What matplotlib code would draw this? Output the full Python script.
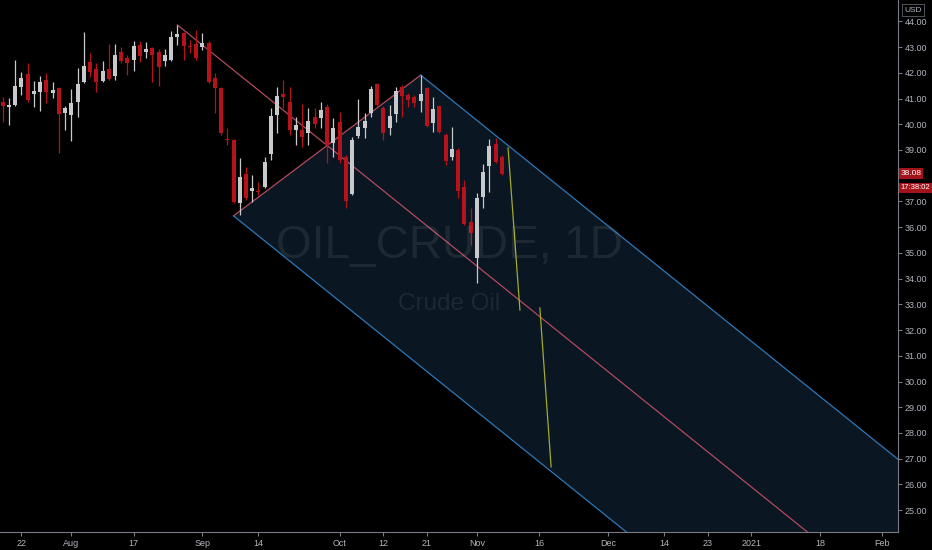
import numpy as np
import pandas as pd
import matplotlib
matplotlib.use('Agg')
import matplotlib.pyplot as plt
from matplotlib import transforms

# daily candles of OIL_CRUDE, 17 Jul 2020 .. 6 Nov 2020
opens = [40.88, 40.67, 40.75, 41.44, 41.95, 41.17, 41.26, 41.71, 41.20, 41.42,
         40.45, 40.36, 40.88, 41.63, 42.42, 42.16, 41.69, 42.16, 41.89, 42.80,
         42.59, 42.50, 43.08, 42.82, 42.97, 42.80, 42.46, 42.50, 43.40, 43.53,
         43.05, 43.12, 43.01, 43.17, 41.81, 41.40, 39.43, 39.39, 36.93, 38.07,
         37.42, 37.40, 37.57, 38.83, 40.36, 41.17, 40.85, 39.78, 39.78, 39.65,
         40.29, 40.23, 40.68, 39.26, 40.10, 38.74, 37.28, 39.55, 39.84, 40.42,
         41.55, 40.62, 39.84, 40.40, 41.46, 41.14, 41.07, 40.91, 41.40, 40.04,
         40.71, 39.58, 38.71, 39.00, 37.57, 36.21, 34.79, 37.16, 38.38, 39.23,
         38.71]
highs = [41.07, 41.02, 42.50, 42.02, 42.37, 41.69, 41.87, 42.00, 41.63, 41.46,
         40.71, 41.36, 42.17, 43.60, 42.76, 42.37, 42.46, 43.12, 43.12, 43.01,
         42.69, 43.25, 43.25, 43.21, 43.01, 42.91, 42.91, 43.62, 43.84, 43.60,
         43.27, 43.66, 43.53, 43.25, 41.98, 41.46, 39.84, 39.41, 38.68, 38.35,
         38.03, 37.77, 38.74, 40.62, 41.46, 41.72, 41.46, 40.29, 40.77, 40.62,
         40.62, 40.88, 40.77, 40.23, 40.49, 38.80, 39.52, 40.98, 40.42, 41.50,
         41.59, 40.71, 40.75, 41.46, 41.52, 41.20, 41.14, 41.91, 41.46, 41.07,
         40.75, 39.65, 39.90, 39.06, 37.83, 36.73, 37.32, 38.45, 39.41, 39.45,
         38.80]
lows = [40.10, 39.97, 40.71, 41.14, 40.88, 40.66, 40.53, 40.84, 41.01, 38.87,
        39.78, 39.36, 40.29, 41.59, 41.85, 41.26, 41.65, 41.72, 41.72, 42.37,
        41.91, 42.08, 42.43, 42.56, 41.65, 41.49, 42.26, 42.47, 43.08, 42.50,
        42.76, 42.50, 42.89, 41.59, 40.42, 39.58, 39.19, 36.93, 36.47, 37.06,
        36.99, 37.25, 37.51, 38.61, 39.65, 40.62, 39.58, 39.19, 39.13, 39.19,
        39.84, 39.84, 38.48, 38.74, 38.48, 36.73, 37.25, 39.45, 39.45, 40.29,
        40.68, 39.39, 39.58, 40.10, 40.29, 40.68, 40.68, 40.49, 39.88, 39.71,
        39.65, 38.42, 38.61, 37.12, 36.08, 35.31, 33.82, 36.73, 37.38, 38.48,
        38.03]
closes = [40.71, 40.75, 41.49, 41.81, 40.94, 41.29, 41.63, 41.25, 41.32, 40.40,
          40.63, 40.84, 41.56, 42.26, 42.02, 41.63, 42.06, 41.76, 42.70, 42.47,
          42.37, 43.05, 42.65, 42.91, 42.69, 42.21, 42.69, 43.40, 43.51, 43.04,
          42.99, 42.56, 43.15, 41.65, 41.40, 39.65, 39.39, 36.99, 37.96, 37.12,
          37.51, 37.36, 38.52, 40.33, 41.11, 41.07, 39.78, 39.97, 39.52, 40.14,
          40.01, 40.55, 39.19, 39.87, 38.61, 37.02, 39.39, 39.90, 40.14, 41.37,
          40.75, 39.65, 40.33, 41.29, 41.10, 40.94, 40.84, 41.17, 39.93, 40.58,
          39.71, 38.58, 39.04, 37.42, 36.12, 35.78, 37.12, 38.15, 39.15, 38.54,
          38.08]

# pitchfork pivots (bar index, price)
pivot_bars = [28, 37, 67]
pivot_prices = [43.86, 36.44, 41.91]

# two projection segments (bar index, price)
seg1_bars = [81.0, 82.9]
seg1_prices = [39.08, 32.78]
seg2_bars = [86.1, 87.9]
seg2_prices = [32.86, 26.68]

tick_dates = ['2020-07-22', '2020-08-03', '2020-08-17', '2020-09-01', '2020-09-14',
              '2020-10-01', '2020-10-12', '2020-10-21', '2020-11-02', '2020-11-16',
              '2020-12-01', '2020-12-14', '2020-12-23', '2021-01-01', '2021-01-18',
              '2021-02-01']
tick_names = ['22', 'Aug', '17', 'Sep', '14', 'Oct', '12', '21', 'Nov', '16',
              'Dec', '14', '23', '2021', '18', 'Feb']
price_ticks = list(range(25, 45))

last_price = 38.08
countdown = '17:38:02'

days = pd.bdate_range('2020-07-17', periods=150)
x = np.arange(len(opens))

bg = '#000000'
red = '#b5121b'
white = '#c8c9cc'
txt = '#b2b5be'
axis_col = '#787b86'
font = ['Liberation Sans', 'DejaVu Sans']

fig = plt.figure(figsize=(9.32, 5.5), dpi=100, facecolor=bg)
ax = fig.add_axes([0, 18 / 550, 898 / 932, 532 / 550])
ax.set_facecolor(bg)
ax.set_xlim(-0.43, 143.5)
ax.set_ylim(24.15, 44.83)

# pitchfork geometry
ax_, bx, cx = pivot_bars
ay, by, cy = pivot_prices
mx, my = (bx + cx) / 2, (by + cy) / 2
slope = (my - ay) / (mx - ax_)
far = 220
fill_x = [bx, cx, far, far]
fill_y = [by, cy, cy + slope * (far - cx), by + slope * (far - bx)]
ax.fill(fill_x, fill_y, color='#0a1621', lw=0, zorder=1)

ax.plot([ax_, far], [ay, ay + slope * (far - ax_)], color='#b24a5c', lw=0.9, zorder=3)
ax.plot([bx, cx], [by, cy], color='#b24a5c', lw=0.9, zorder=3)
ax.plot([cx, far], [cy, cy + slope * (far - cx)], color='#2e78b8', lw=0.9, zorder=3)
ax.plot([bx, far], [by, by + slope * (far - bx)], color='#2e78b8', lw=0.9, zorder=3)

ax.plot(seg1_bars, seg1_prices, color='#a4aa28', lw=0.9, zorder=3)
ax.plot(seg2_bars, seg2_prices, color='#a4aa28', lw=0.9, zorder=3)

# watermark
fig.text(449 / 932, 1 - 258 / 550, 'OIL_CRUDE, 1D', family=font, fontsize=33,
         color='white', alpha=0.08, ha='center', va='baseline', zorder=2)
fig.text(449 / 932, 1 - 310 / 550, 'Crude Oil', family=font, fontsize=17.5,
         color='white', alpha=0.08, ha='center', va='baseline', zorder=2)

# candles
o = np.array(opens)
c = np.array(closes)
cols = [white if cc >= oo else red for oo, cc in zip(o, c)]
ax.vlines(x, lows, highs, colors=cols, lw=0.9, zorder=4)
body_h = np.maximum(np.abs(c - o), 0.04)
ax.bar(x, body_h, bottom=np.minimum(o, c), width=0.64, color=cols, lw=0, zorder=5)

# axes styling
for s in ['top', 'left']:
    ax.spines[s].set_visible(False)
for s in ['right', 'bottom']:
    ax.spines[s].set_color(axis_col)
    ax.spines[s].set_linewidth(0.8)

tick_pos = [days.get_loc(pd.Timestamp(d)) for d in tick_dates]
ax.set_xticks(tick_pos)
ax.set_xticklabels(tick_names)
ax.yaxis.tick_right()
ax.set_yticks(price_ticks)
# the 38.00 label is covered by the last price tag
ax.set_yticklabels(['' if p == 38 else '%.2f' % p for p in price_ticks])
ax.tick_params(axis='both', colors=axis_col, labelcolor=txt, length=3, width=0.8,
               labelsize=6.5, pad=2)
for lab in ax.get_xticklabels() + ax.get_yticklabels():
    lab.set_family(font)

# last price tag
tr = transforms.blended_transform_factory(ax.transAxes, ax.transData)
ax.text(1.003, last_price, '%.2f' % last_price, transform=tr, family=font,
        fontsize=6, color='white', va='center', ha='left', clip_on=False, zorder=10,
        bbox=dict(boxstyle='square,pad=0.2', fc='#a3141a', ec='none'))
ax.annotate(countdown, xy=(1.003, last_price), xycoords=tr, xytext=(0, -10),
            textcoords='offset points', family=font, fontsize=5.5, color='white',
            va='center', ha='left', annotation_clip=False, zorder=10,
            bbox=dict(boxstyle='square,pad=0.2', fc='#a3141a', ec='none'))

fig.text(913 / 932, 1 - 10 / 550, 'USD', family=font, fontsize=6, color=txt,
         ha='center', va='center',
         bbox=dict(boxstyle='square,pad=0.3', fc=bg, ec='#50535e', lw=0.7))

fig.savefig('out.png', dpi=100, facecolor=bg)
